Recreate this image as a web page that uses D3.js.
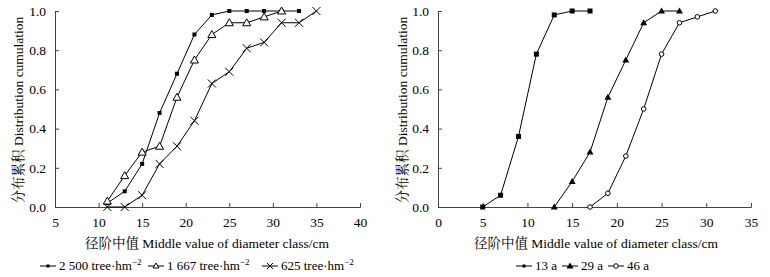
<!DOCTYPE html>
<html>
<head>
<meta charset="utf-8">
<script src="https://cdn.jsdelivr.net/npm/d3@7"></script>
</head>
<body style="margin:0">
<script>
// left panel: stand density
var xLeft = [11, 13, 15, 17, 19, 21, 23, 25, 27, 29, 31, 33, 35];
var d2500 = [0.02, 0.08, 0.22, 0.48, 0.68, 0.88, 0.98, 1.0, 1.0, 1.0, 1.0, 1.0, null];
var d1667 = [0.03, 0.16, 0.28, 0.31, 0.56, 0.75, 0.88, 0.94, 0.94, 0.97, 1.0, null, null];
var d625  = [0.0, 0.0, 0.06, 0.22, 0.31, 0.44, 0.63, 0.69, 0.81, 0.84, 0.94, 0.94, 1.0];
var leftNames = ["2 500 tree·hm", "1 667 tree·hm", "625 tree·hm"];

// right panel: stand age
var xRight = [5, 7, 9, 11, 13, 15, 17, 19, 21, 23, 25, 27, 29, 31];
var a13 = [0.0, 0.06, 0.36, 0.78, 0.98, 1.0, 1.0, null, null, null, null, null, null, null];
var a29 = [null, null, null, null, 0.0, 0.13, 0.28, 0.56, 0.75, 0.94, 1.0, 1.0, null, null];
var a46 = [null, null, null, null, null, null, 0.0, 0.07, 0.26, 0.50, 0.78, 0.94, 0.97, 1.0];
var rightNames = ["13 a", "29 a", "46 a"];

var yTicks = [0, 0.2, 0.4, 0.6, 0.8, 1.0];
var yTitleZh = "分布累积", yTitleEn = " Distribution cumulation";
var xTitleZh = "径阶中值", xTitleEn = " Middle value of diameter class/cm";

var FONT = "Liberation Serif";
var CJK = "Noto Serif CJK SC";

var svg = d3.select("body").append("svg")
  .attr("width", 770)
  .attr("height", 277);

// marker drawing
function drawMarker(g, type, x, y) {
  if (type == "sq") {
    g.append("rect").attr("x", x - 2).attr("y", y - 2).attr("width", 4).attr("height", 4).attr("fill", "#000");
  } else if (type == "sqSmall") {
    g.append("rect").attr("x", x - 1.5).attr("y", y - 1.5).attr("width", 3).attr("height", 3).attr("fill", "#000");
  } else if (type == "sqBig") {
    g.append("rect").attr("x", x - 2.5).attr("y", y - 2.5).attr("width", 5).attr("height", 5).attr("fill", "#000");
  } else if (type == "triOpen") {
    g.append("path").attr("d", `M${x},${y-4}L${x+4},${y+3}L${x-4},${y+3}Z`)
      .attr("fill", "#fff").attr("stroke", "#000").attr("stroke-width", 1);
  } else if (type == "triSmall") {
    g.append("path").attr("d", `M${x},${y-3}L${x+3},${y+2}L${x-3},${y+2}Z`)
      .attr("fill", "#fff").attr("stroke", "#000").attr("stroke-width", 1);
  } else if (type == "triFill") {
    g.append("path").attr("d", `M${x},${y-3.5}L${x+3.5},${y+2.5}L${x-3.5},${y+2.5}Z`).attr("fill", "#000");
  } else if (type == "cross") {
    g.append("path").attr("d", `M${x-4},${y-4}L${x+4},${y+4}M${x+4},${y-4}L${x-4},${y+4}`)
      .attr("stroke", "#000").attr("stroke-width", 1);
  } else if (type == "crossSmall") {
    g.append("path").attr("d", `M${x-3},${y-3}L${x+3},${y+3}M${x+3},${y-3}L${x-3},${y+3}`)
      .attr("stroke", "#000").attr("stroke-width", 1);
  } else if (type == "circ") {
    g.append("circle").attr("cx", x).attr("cy", y).attr("r", 2.3)
      .attr("fill", "#fff").attr("stroke", "#000").attr("stroke-width", 1);
  }
}

function panel(opts) {
  var g = svg.append("g");
  var x = d3.scaleLinear().domain(opts.xDomain).range(opts.xRange);
  var y = d3.scaleLinear().domain([0, 1]).range([207, 11]);

  // axes: ticks point inward
  var xa = g.append("g").attr("transform", "translate(0,207)")
    .call(d3.axisBottom(x).tickValues(opts.xTicks).tickSize(-4).tickPadding(9).tickFormat(d3.format("d")));
  var ya = g.append("g").attr("transform", `translate(${opts.xRange[0]},0)`)
    .call(d3.axisLeft(y).tickValues(yTicks).tickSize(-4).tickPadding(9).tickFormat(d3.format(".1f")));
  [xa, ya].forEach(function(a) {
    a.attr("font-family", null).attr("font-size", null);
    a.select(".domain").attr("stroke", "#444");
    a.selectAll(".tick line").attr("stroke", "#444");
    a.selectAll("text").attr("fill", "#000").attr("font-size", 13.5);
  });
  xa.selectAll("text").attr("dy", "0.85em");

  // series
  opts.series.forEach(function(s) {
    var pts = opts.xs.map(function(v, i) { return [v, s.values[i]]; }).filter(function(p) { return p[1] != null; });
    g.append("path").datum(pts)
      .attr("fill", "none").attr("stroke", "#000").attr("stroke-width", 1)
      .attr("d", d3.line().x(function(d) { return x(d[0]); }).y(function(d) { return y(d[1]); }));
    pts.forEach(function(p) { drawMarker(g, s.marker, x(p[0]), y(p[1])); });
  });

  // axis titles
  var yt = g.append("text")
    .attr("transform", `translate(${opts.yTitleX},110) rotate(-90)`)
    .attr("text-anchor", "middle").attr("dy", "0.35em")
    .attr("font-size", 13.5);
  yt.append("tspan").attr("class", "zh").text(yTitleZh);
  yt.append("tspan").text(yTitleEn);
  var xt = g.append("text")
    .attr("x", opts.xTitleX).attr("y", 248)
    .attr("text-anchor", "middle").attr("font-size", 13.5);
  xt.append("tspan").attr("class", "zh").text(xTitleZh);
  xt.append("tspan").text(xTitleEn);

  // legend
  var lx = opts.legendX;
  opts.series.forEach(function(s, i) {
    g.append("line").attr("x1", lx).attr("x2", lx + 16).attr("y1", 266).attr("y2", 266)
      .attr("stroke", "#000").attr("stroke-width", 1);
    drawMarker(g, s.legendMarker || s.marker, lx + 8, 266);
    var t = g.append("text").attr("x", lx + 19).attr("y", 270).attr("font-size", 13);
    t.append("tspan").text(s.name);
    if (opts.sup) {
      t.append("tspan").attr("dy", -5).attr("font-size", 9).text("−2");
    }
    lx += opts.legendW[i];
  });
}

panel({
  xDomain: [5, 40], xRange: [55, 360], xTicks: [5, 10, 15, 20, 25, 30, 35, 40],
  xs: xLeft, yTitleX: 18, xTitleX: 207, legendX: 40, legendW: [108, 114], sup: true,
  series: [
    { name: leftNames[0], values: d2500, marker: "sq", legendMarker: "sqSmall" },
    { name: leftNames[1], values: d1667, marker: "triOpen", legendMarker: "triSmall" },
    { name: leftNames[2], values: d625, marker: "cross", legendMarker: "crossSmall" }
  ]
});

panel({
  xDomain: [0, 35], xRange: [438, 751], xTicks: [0, 5, 10, 15, 20, 25, 30, 35],
  xs: xRight, yTitleX: 402, xTitleX: 596, legendX: 516, legendW: [46, 46], sup: false,
  series: [
    { name: rightNames[0], values: a13, marker: "sqBig", legendMarker: "sqSmall" },
    { name: rightNames[1], values: a29, marker: "triFill" },
    { name: rightNames[2], values: a46, marker: "circ" }
  ]
});

// fonts: draw every text at 16px and scale it down to its size
var BASE = 16;
svg.selectAll("text").each(function() {
  var t = d3.select(this);
  var k = +t.attr("font-size") / BASE;
  var tx = +t.attr("x") || 0, ty = +t.attr("y") || 0;
  var tr = t.attr("transform") || "";
  t.attr("transform", `${tr} translate(${tx},${ty}) scale(${k})`)
    .attr("x", 0).attr("y", 0)
    .attr("font-size", BASE)
    .attr("font-family", FONT);
  t.selectAll("tspan").each(function() {
    var s = d3.select(this);
    if (s.attr("font-size")) s.attr("font-size", +s.attr("font-size") / k);
    if (s.attr("dy")) s.attr("dy", +s.attr("dy") / k);
  });
});
svg.selectAll("tspan.zh").attr("font-family", CJK);
</script>
</body>
</html>
